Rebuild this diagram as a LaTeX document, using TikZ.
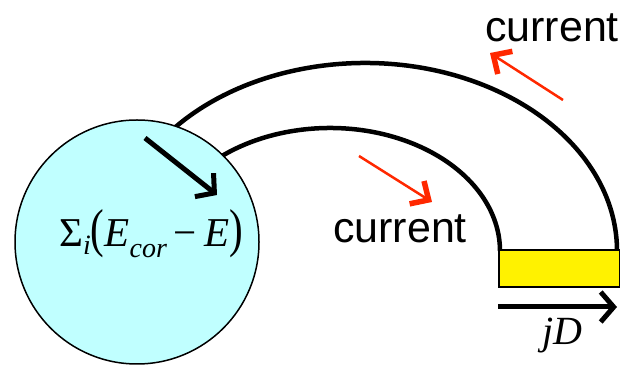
\documentclass[tikz,border=0pt]{standalone}
\usepackage{fontspec}
\usepackage{graphicx}
\setmainfont{Liberation Sans}
\newfontfamily\tnr{Liberation Serif}
\usetikzlibrary{arrows.meta}
\definecolor{ballcyan}{RGB}{192,255,255}
\definecolor{arrred}{RGB}{255,40,0}
\tikzset{
  wire/.style={line width=4.5pt},
  bigarrow/.style={line width=5pt,-{Straight Barb[length=13pt,width=30pt,line width=5pt]}},
  redarrow/.style={arrred,line width=2.5pt,-{Straight Barb[length=14pt,width=27pt,line width=5.5pt]}},
  curlabel/.style={font=\fontsize{43}{43}\selectfont, inner sep=0pt},
}
\begin{document}
\begin{tikzpicture}[x=1pt,y=1pt]
\useasboundingbox (0,0) rectangle (620,366);
% arcs (drawn first, circle covers their ends)
\coordinate (oc) at (365,115);
\coordinate (ic) at (330,115);
\draw[wire] (oc) ++(150:252pt and 188pt) arc[start angle=150,end angle=0,x radius=252pt,y radius=188pt];
\draw[wire] (ic) ++(150:170pt and 123pt) arc[start angle=150,end angle=0,x radius=170pt,y radius=123pt];
% ball
\node[circle,draw,line width=1.5pt,fill=ballcyan,minimum size=244pt,inner sep=0pt] (ball) at (137,124) {};
\node[anchor=base,inner sep=0pt] (sum) at (151,119) {\tnr\fontsize{41}{41}\selectfont
  Σ\raisebox{-8pt}{\fontsize{28}{28}\selectfont\itshape i}\scalebox{1}[1.3]{(}\itshape E\raisebox{-11pt}{\fontsize{28}{28}\selectfont cor}\hspace{7pt}\upshape −\hspace{7pt}\itshape E\upshape\scalebox{1}[1.3]{)}};
\coordinate (ba1) at (145,228);
\coordinate (ba2) at (217,171);
\draw[bigarrow] (ba1) -- (ba2);
% yellow bar
\node[draw,line width=1.5pt,fill=yellow,inner sep=0pt,minimum width=121pt,minimum height=37pt,anchor=south west] (bar) at (498,78) {};
\coordinate (ja1) at (498,59);
\coordinate (ja2) at (617,59);
\draw[bigarrow] (ja1) -- (ja2);
\node[anchor=base,inner sep=0pt] (jd) at (562,21) {\tnr\itshape\fontsize{40}{40}\selectfont jD};
% red arrows
\coordinate (r1a) at (563,266);
\coordinate (r1b) at (490,313);
\draw[redarrow] (r1a) -- (r1b);
\coordinate (r2a) at (359,210);
\coordinate (r2b) at (432,164);
\draw[redarrow] (r2a) -- (r2b);
% labels
\node[curlabel,anchor=base] (cur1) at (552,324) {current};
\node[curlabel,anchor=base] (cur2) at (400,123) {current};
\end{tikzpicture}
\end{document}
